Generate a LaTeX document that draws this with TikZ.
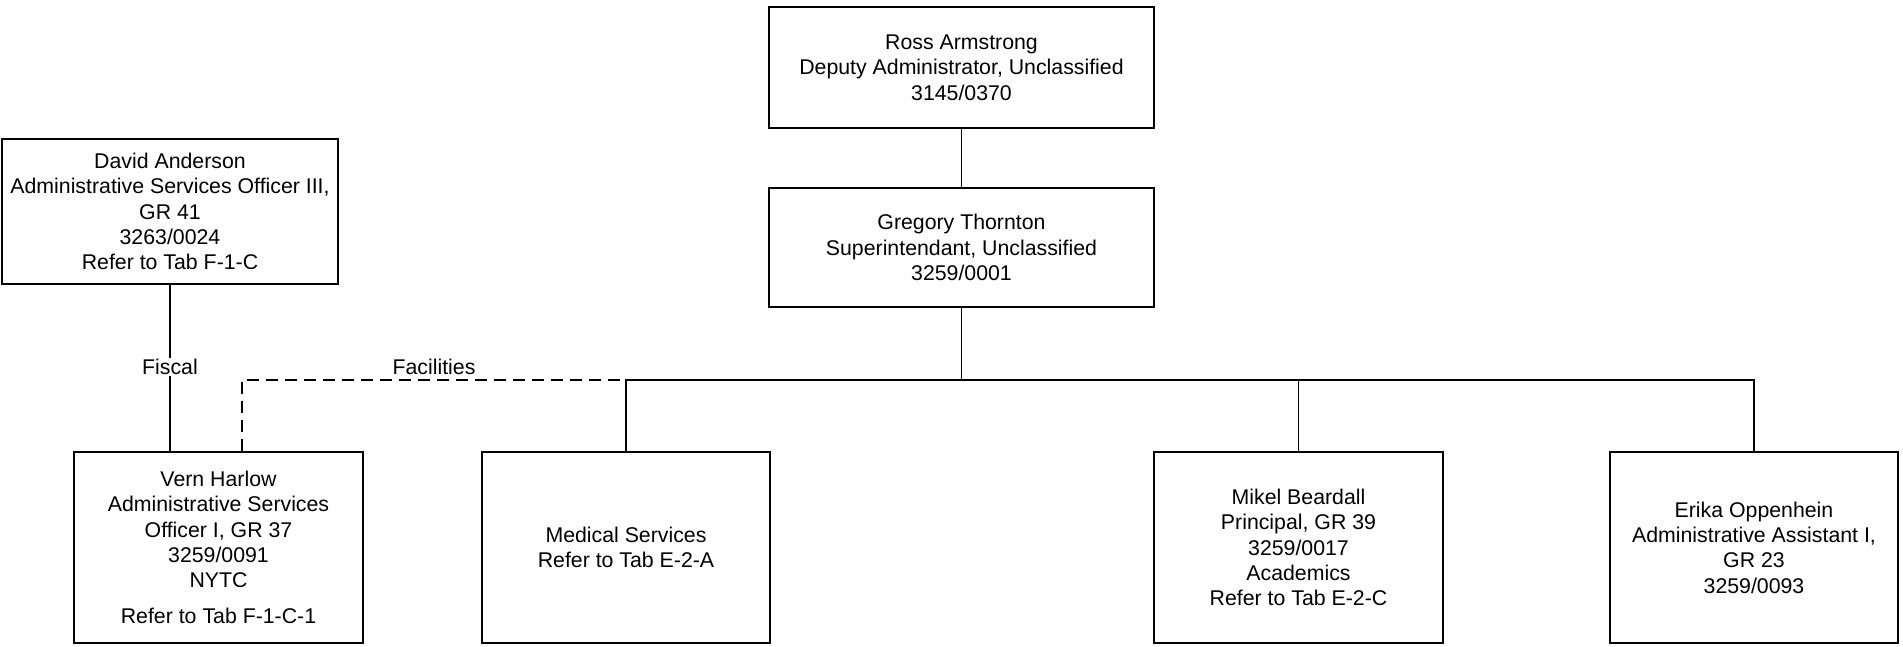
\documentclass[tikz,border=0pt]{standalone}
\usepackage{fontspec}
\setmainfont{Liberation Sans}
\begin{document}
\begin{tikzpicture}[x=1pt,y=-1pt,
  box/.style={draw=black,line width=1.8pt,rectangle,inner sep=0pt,align=center,
    font=\fontsize{21.3}{25.3}\selectfont},
  kid/.style={box,minimum width=289pt,minimum height=191pt},
  conn/.style={line width=1.8pt},
  dconn/.style={line width=1.8pt,dash pattern=on 12pt off 7pt},
  lbl/.style={inner sep=1.5pt,font=\fontsize{21.3}{25.3}\selectfont}]
\useasboundingbox (0,0) rectangle (1903,647);
\node[box,minimum width=385pt,minimum height=121pt] (ross) at (961.5,67.5)
  {Ross Armstrong\\Deputy Administrator, Unclassified\\3145/0370};
\node[box,minimum width=385pt,minimum height=119pt] (greg) at (961.5,247.5)
  {Gregory Thornton\\Superintendant, Unclassified\\3259/0001};
\node[box,minimum width=336pt,minimum height=145pt] (david) at (170,211.5)
  {David Anderson\\Administrative Services Officer III,\\GR 41\\3263/0024\\Refer to Tab F-1-C};
\node[kid] (vern) at (218.5,547.5)
  {Vern Harlow\\Administrative Services\\Officer I, GR 37\\3259/0091\\NYTC\\[10.7pt]Refer to Tab F-1-C-1};
\node[kid,minimum width=288pt] (med) at (626,547.5)
  {Medical Services\\Refer to Tab E-2-A};
\node[kid] (mikel) at (1298.5,547.5)
  {Mikel Beardall\\Principal, GR 39\\3259/0017\\Academics\\Refer to Tab E-2-C};
\node[kid,minimum width=288pt] (erika) at (1754,547.5)
  {Erika Oppenhein\\Administrative Assistant I,\\GR 23\\3259/0093};
\coordinate (bus) at (961.5,380);
\coordinate (dcorner) at (242,380);
\draw[conn] (ross.south) -- (greg.north);
\draw[conn] (greg.south) -- (bus);
\draw[conn] (med.north) |- (bus);
\draw[conn] (mikel.north) |- (bus);
\draw[conn] (erika.north) |- (bus);
\draw[conn] (david.south) -- (david.south |- vern.north)
  node[lbl,fill=white,pos=0.494] (fiscal) {Fiscal};
\draw[dconn] (vern.north -| dcorner) -- (dcorner) -- (med.north |- bus);
\node[lbl] (fac) at (434,367) {Facilities};
\end{tikzpicture}
\end{document}
